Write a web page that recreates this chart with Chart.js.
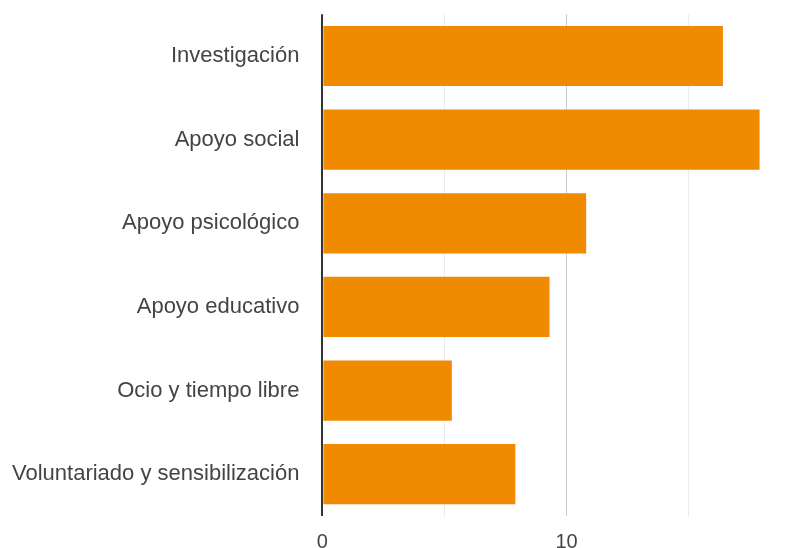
<!DOCTYPE html>
<html>
<head>
<meta charset="utf-8">
<script src="https://cdn.jsdelivr.net/npm/chart.js@4"></script>
<style>
  html, body { margin: 0; padding: 0; background: #fff; overflow: hidden; }
  #wrap { width: 800px; height: 548px; overflow: hidden; }
  #areasChart { display: block; margin-top: -14px; margin-left: -3px; }
</style>
</head>
<body>
<div id="wrap"><canvas id="areasChart" width="803" height="582"></canvas></div>
<script>
const categories = [
  "Investigación",
  "Apoyo social",
  "Apoyo psicológico",
  "Apoyo educativo",
  "Ocio y tiempo libre",
  "Voluntariado y sensibilización"
];
const values = [16.4, 17.9, 10.8, 9.3, 5.3, 7.9];
const tickValues = [0, 5, 10, 15];
const tickLabels = ["0", "", "10", ""];

const barColor = "#f08a00";

const areasData = {
  labels: categories,
  datasets: [
    {
      label: "Áreas",
      backgroundColor: barColor,
      borderColor: barColor,
      borderWidth: 0,
      data: values,
      barPercentage: 0.72,
      categoryPercentage: 1.0,
    },
  ],
};

const areasConfig = {
  type: "bar",
  data: areasData,
  options: {
    indexAxis: "y",
    responsive: false,
    animation: false,
    layout: { padding: { top: 0, right: 38, bottom: 0, left: 0 } },
    plugins: {
      legend: { display: false },
      tooltip: { enabled: false },
    },
    scales: {
      x: {
        min: 0,
        max: 18,
        afterBuildTicks: (axis) => {
          axis.ticks = tickValues.map((v) => ({ value: v }));
        },
        border: { display: false },
        grid: {
          drawTicks: false,
          lineWidth: (ctx) => (ctx.tick && ctx.tick.value === 0 ? 2 : 1),
          color: (ctx) => {
            if (!ctx.tick) return "#ebebeb";
            if (ctx.tick.value === 0) return "#333333";
            if (ctx.tick.value === 10) return "#cccccc";
            return "#ebebeb";
          },
        },
        ticks: {
          padding: 14,
          color: "#444",
          font: { family: "Liberation Sans", size: 20 },
          callback: (value, index) => tickLabels[index],
        },
      },
      y: {
        grid: { display: false },
        border: { display: false },
        ticks: {
          padding: 15,
          color: "#444",
          font: { family: "Liberation Sans", size: 22 },
        },
      },
    },
  },
};

const areasChart = new Chart(document.getElementById("areasChart"), areasConfig);
</script>
</body>
</html>
